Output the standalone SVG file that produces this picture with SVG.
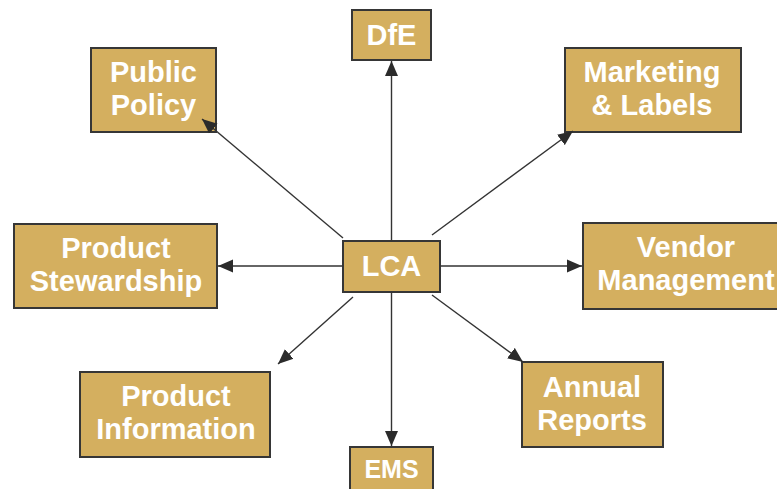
<svg xmlns="http://www.w3.org/2000/svg" width="777" height="489" viewBox="0 0 777 489">
  <style>
    .box { fill: #D4AF5F; stroke: #363636; stroke-width: 2; }
    .lbl { fill: #FFFFFF; font-family: "Liberation Sans", Arial, sans-serif; font-weight: bold; font-size: 29px; text-anchor: middle; }
    .link { stroke: #333333; stroke-width: 1.4; fill: none; marker-end: url(#arrow); }
  </style>
  <defs>
    <marker id="arrow" markerUnits="userSpaceOnUse" markerWidth="16" markerHeight="14" refX="15" refY="7" orient="auto">
      <path d="M0,0.5 L15,7 L0,13.5 Z" fill="#2b2b2b"/>
    </marker>
  </defs>
  <rect width="777" height="489" fill="#FFFFFF"/>

  <g id="lca">
    <rect class="box" x="343" y="241" width="97" height="51"/>
    <text class="lbl" x="391.5" y="276">LCA</text>
  </g>
  <g id="dfe">
    <rect class="box" x="352" y="10" width="79" height="50"/>
    <text class="lbl" x="391.5" y="45">DfE</text>
  </g>
  <g id="ems">
    <rect class="box" x="350" y="447" width="83" height="50"/>
    <text class="lbl" x="391.5" y="478" style="font-size:25px">EMS</text>
  </g>
  <g id="public-policy">
    <rect class="box" x="91" y="48" width="125" height="84"/>
    <text class="lbl" x="153.5" y="82">Public</text>
    <text class="lbl" x="153.5" y="115">Policy</text>
  </g>
  <g id="marketing-labels">
    <rect class="box" x="565" y="48" width="176" height="84"/>
    <text class="lbl" x="652" y="82">Marketing</text>
    <text class="lbl" x="652" y="115">&amp; Labels</text>
  </g>
  <g id="product-stewardship">
    <rect class="box" x="14" y="224" width="203" height="84"/>
    <text class="lbl" x="116" y="258">Product</text>
    <text class="lbl" x="116" y="291">Stewardship</text>
  </g>
  <g id="vendor-management">
    <rect class="box" x="583" y="223" width="206" height="86"/>
    <text class="lbl" x="686" y="257">Vendor</text>
    <text class="lbl" x="686" y="290">Management</text>
  </g>
  <g id="product-information">
    <rect class="box" x="80" y="372" width="190" height="85"/>
    <text class="lbl" x="176" y="406">Product</text>
    <text class="lbl" x="176" y="439">Information</text>
  </g>
  <g id="annual-reports">
    <rect class="box" x="522" y="362" width="141" height="85"/>
    <text class="lbl" x="592" y="397">Annual</text>
    <text class="lbl" x="592" y="430">Reports</text>
  </g>

  <g id="connectors">
    <line class="link" x1="391.5" y1="241" x2="391.5" y2="61"/>
    <line class="link" x1="391.5" y1="292" x2="391.5" y2="446"/>
    <line class="link" x1="343" y1="266" x2="218" y2="266"/>
    <line class="link" x1="440" y1="266" x2="582" y2="266"/>
    <line class="link" x1="343" y1="238" x2="202" y2="119"/>
    <line class="link" x1="432" y1="235" x2="573" y2="131"/>
    <line class="link" x1="353" y1="297" x2="278" y2="364"/>
    <line class="link" x1="432" y1="295" x2="523" y2="362"/>
  </g>
</svg>
